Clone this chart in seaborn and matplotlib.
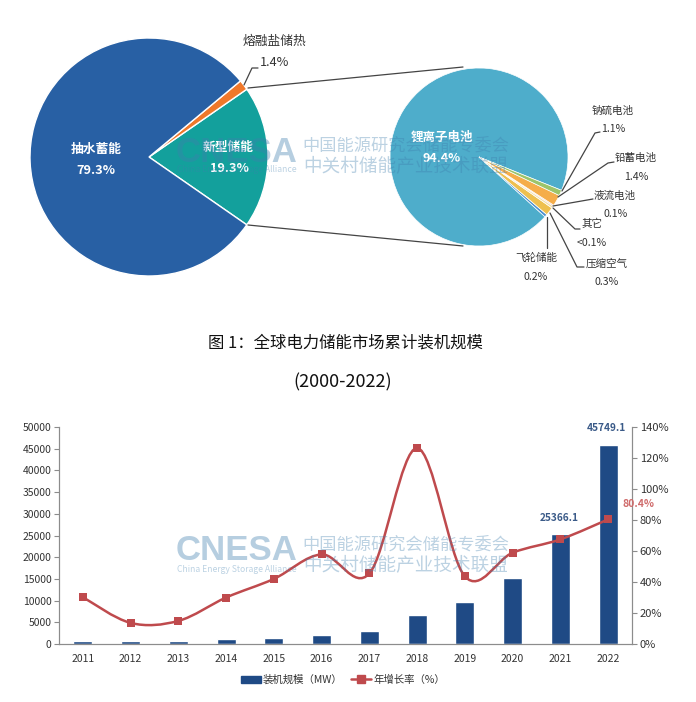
import numpy as np
import pandas as pd
import seaborn as sns
import matplotlib.pyplot as plt
from matplotlib.lines import Line2D
from matplotlib.patches import Patch, PathPatch
from matplotlib.path import Path

# left pie
market_labels = ['新型储能', '熔融盐储热', '抽水蓄能']
market_share = [19.3, 1.4, 79.3]
market_colors = ['#13a09c', '#f0782a', '#2860a4']

# right pie, wedge widths as drawn (they are wider than the printed percents)
new_labels = ['锂离子电池', '飞轮储能', '压缩空气', '其它', '液流电池', '铅蓄电池', '钠硫电池']
new_share = [94.4, 0.5, 1.5, 0.4, 0.2, 2.0, 1.0]
new_printed = ['94.4%', '0.2%', '0.3%', '<0.1%', '0.1%', '1.4%', '1.1%']
new_colors = ['#4eadcb', '#4a90d0', '#eec050', '#f3dfa8', '#e8b0a0', '#f5ad4a', '#9cc46a']

# bottom chart
years = ['2011', '2012', '2013', '2014', '2015', '2016', '2017', '2018', '2019', '2020', '2021', '2022']
capacity = [650, 650, 800, 1050, 1350, 2050, 3000, 6700, 9600, 15200, 25366.1, 45749.1]
growth = [30.2, 13.6, 14.9, 30.0, 42.0, 57.8, 45.5, 126.4, 43.6, 58.9, 67.5, 80.4]

BAR = '#1f4a85'
RED = '#bf4a4d'
GREY = '#8c8c8c'
TXT = '#333333'
MARK = '#3f7fae'
W, H = 696, 702

sns.set_theme(style='white')
plt.rcParams['font.family'] = ['Noto Sans CJK SC', 'DejaVu Sans']

fig = plt.figure(figsize=(W / 100, H / 100), dpi=100)


def Y(y):
    return H - y


# bar + line chart
ax = fig.add_axes([59 / W, 1 - 644 / H, 573 / W, 217 / H])
df = pd.DataFrame({'year': years, 'capacity': capacity})
sns.barplot(data=df, x='year', y='capacity', color=BAR, width=0.4, saturation=1, ax=ax)
ax.set_xlim(-0.5, 11.5)
ax.set_ylim(0, 50000)
ax.set_yticks(range(0, 50001, 5000))
ax.set_xlabel('')
ax.set_ylabel('')
ax.set_xticks(np.arange(-0.5, 12, 1))
ax.set_xticklabels([])
ax.set_xticks(range(12), years, minor=True)
ax.tick_params(axis='x', which='major', length=3, width=0.8, color=GREY)
ax.tick_params(axis='x', which='minor', length=0, labelsize=7.5, labelcolor=TXT, pad=7)
ax.tick_params(axis='y', left=True, length=3.5, width=0.8, color=GREY, labelsize=7.5, labelcolor=TXT, pad=2)

ax2 = ax.twinx()
ax2.set_ylim(0, 140)
ax2.set_yticks(range(0, 141, 20))
ax2.set_yticklabels([f'{v}%' for v in range(0, 141, 20)])
ax2.tick_params(axis='y', right=True, length=3.5, width=0.8, color=GREY, labelsize=8, labelcolor=TXT, pad=2)
ax2.set_ylabel('')

# smoothed line like the spreadsheet's one, bezier handles from neighbouring values
pos = np.arange(len(growth), dtype=float)
pts = np.column_stack([pos, growth])
verts = [pts[0]]
codes = [Path.MOVETO]
for i in range(len(pts) - 1):
    p0 = pts[max(i - 1, 0)]
    p1 = pts[i]
    p2 = pts[i + 1]
    p3 = pts[min(i + 2, len(pts) - 1)]
    verts += [p1 + (p2 - p0) / 6, p2 - (p3 - p1) / 6, p2]
    codes += [Path.CURVE4] * 3
ax2.add_patch(PathPatch(Path(verts, codes), fill=False, edgecolor=RED, lw=1.8, zorder=3))
sns.scatterplot(x=pos, y=growth, marker='s', s=30, color=RED, edgecolor=RED, linewidth=0, ax=ax2, zorder=4)

for a in (ax, ax2):
    sns.despine(ax=a, top=True, right=False, left=False)
    for s in a.spines.values():
        s.set_color(GREY)
        s.set_linewidth(0.8)

for i in (10, 11):
    ax.annotate(f'{capacity[i]:.1f}', (i, capacity[i]), xytext=(-1, 9 if i == 11 else 8),
                textcoords='offset points', ha='center', va='bottom', fontsize=7.3,
                fontweight='bold', color='#3a5a88')
ax2.annotate(f'{growth[11]}%', (11, growth[11]), xytext=(10, 11), textcoords='offset points',
             ha='left', va='center', fontsize=7.5, fontweight='bold', color='#cf6a6a')

fig.legend(handles=[Patch(color=BAR, label='装机规模（MW）'),
                    Line2D([], [], color=RED, lw=1.8, marker='s', ms=5.4, label='年增长率（%）')],
           loc='center', bbox_to_anchor=(343 / W, 1 - 680 / H), ncol=2, frameon=False,
           fontsize=7.5, handlelength=1.9, handletextpad=0.2, columnspacing=0.8,
           labelcolor=TXT, borderpad=0)

# everything on top is laid out in picture pixels
top = fig.add_axes([0, 0, 1, 1])
top.patch.set_alpha(0)
top.pie(market_share, colors=market_colors, center=(149, Y(157)), radius=119,
        startangle=-34.75, wedgeprops={'edgecolor': 'white', 'linewidth': 1.0})
top.pie(new_share, colors=new_colors, center=(479, Y(157)), radius=89,
        startangle=-22, wedgeprops={'edgecolor': 'white', 'linewidth': 0.5})
top.set_xlim(0, W)
top.set_ylim(0, H)
top.set_aspect('auto')
top.axis('off')


def leader(points, color='#444444'):
    top.plot([p[0] for p in points], [Y(p[1]) for p in points], color=color, lw=0.9, zorder=5)


def label(x, y, s, size=7.6, color=TXT, weight='normal'):
    top.text(x, Y(y), s, ha='center', va='center', fontsize=size, color=color, fontweight=weight, zorder=6)


# zoom lines between the pies
leader([(248, 88), (463, 67)])
leader([(248, 225), (463, 246)])

leader([(244, 85), (252, 68), (258, 68)])
label(274, 41, market_labels[1], size=9.2)
label(275, 62, f'{market_share[1]}%', size=9.2)
label(96, 149, market_labels[2], size=9.2, color='white', weight='bold')
label(96, 170, f'{market_share[2]}%', size=9.2, color='white', weight='bold')
label(228, 147, market_labels[0], size=9.2, color='white', weight='bold')
label(229, 169, f'{market_share[0]}%', size=9.2, color='white', weight='bold')

label(442, 137, new_labels[0], size=9, color='white', weight='bold')
label(442, 158, new_printed[0], size=9, color='white', weight='bold')

leader([(562, 191), (595, 133), (600, 132)])
leader([(558, 197), (608, 163), (614, 162)])
leader([(553, 206), (593, 199)])
leader([(553, 208), (575, 229), (580, 229)])
leader([(550, 213), (577, 267), (584, 267)])
leader([(547, 217), (547, 248)])
label(613, 111, new_labels[6])
label(613, 129, new_printed[6])
label(636, 158, new_labels[5])
label(636, 177, new_printed[5])
label(615, 196, new_labels[4])
label(616, 214, new_printed[4])
label(592, 224, new_labels[3])
label(592, 243, new_printed[3])
label(607, 264, new_labels[2])
label(607, 282, new_printed[2])
label(536, 258, new_labels[1])
label(536, 277, new_printed[1])

label(345, 343, '图 1：全球电力储能市场累计装机规模', size=11.8, color='#111111')
label(343, 382, '(2000-2022)', size=13, color='#111111')

# watermark, same block on both charts
for cy in (155, 554):
    top.text(237, Y(cy - 3), 'CNESA', ha='center', va='center', fontsize=25, fontweight='bold',
             family='Liberation Sans', color=MARK, alpha=0.38, zorder=7)
    top.text(237, Y(cy + 15), 'China Energy Storage Alliance', ha='center', va='center', fontsize=6.2,
             color=MARK, alpha=0.35, zorder=7)
    top.text(406, Y(cy - 9), '中国能源研究会储能专委会', ha='center', va='center', fontsize=12.4,
             color=MARK, alpha=0.35, zorder=7)
    top.text(406, Y(cy + 11), '中关村储能产业技术联盟', ha='center', va='center', fontsize=13.4,
             color=MARK, alpha=0.35, zorder=7)

fig.savefig('out.png', dpi=100)
